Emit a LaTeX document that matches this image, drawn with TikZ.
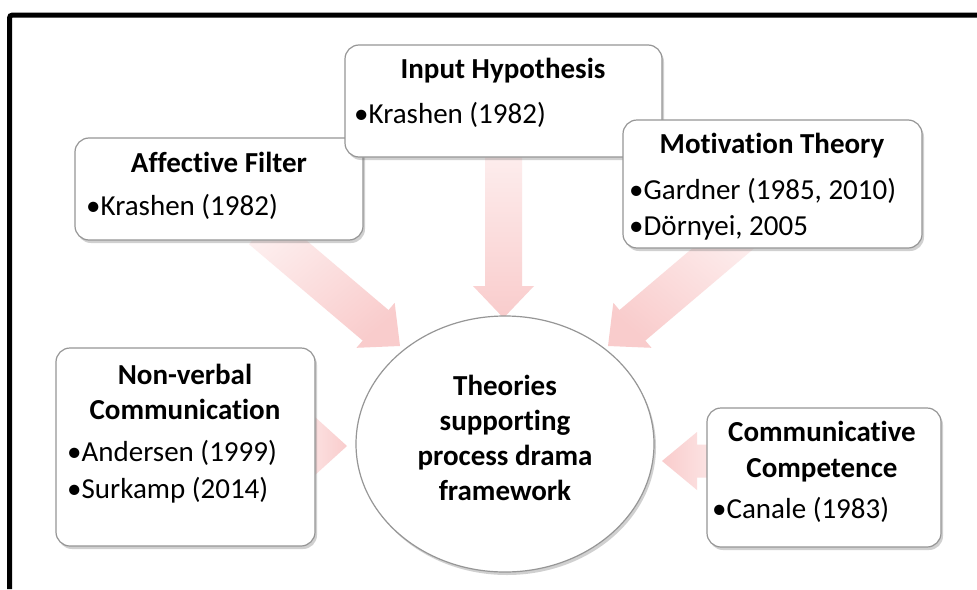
\documentclass[tikz,border=0pt]{standalone}
\usepackage{fontspec}
\setmainfont{Carlito}[RawFeature={-liga}]
\usetikzlibrary{calc,shadows,shapes.geometric}
\definecolor{boxline}{RGB}{150,150,150}
\definecolor{arrowlight}{RGB}{253,238,238}
\definecolor{arrowdark}{RGB}{249,204,204}
\tikzset{
  tbox/.style={draw=boxline, line width=1.2pt, fill=white, rounded corners=14pt,
    minimum width=#1, inner sep=0pt,
    drop shadow={shadow xshift=2pt, shadow yshift=-3pt, opacity=0.3, fill=black!60}},
  txt/.style={font=\fontsize{29}{34}\selectfont, anchor=base, inner sep=0pt},
  ttl/.style={txt, font=\fontsize{29}{34}\selectfont\bfseries},
  bul/.style={txt, anchor=base west},
  arrowfill/.style={top color=arrowlight, bottom color=arrowdark, draw=none}
}
\newcommand\blockarrow[6]{%
  \coordinate (h) at ($(#2)!#5!(#1)$);
  \path[arrowfill, shading angle=#6]
    ($(#1)!#3!90:(#2)$) -- ($(h)!#3!90:(#2)$) -- ($(h)!#4!90:(#2)$) -- (#2)
    -- ($(h)!#4!-90:(#2)$) -- ($(h)!#3!-90:(#2)$) -- ($(#1)!#3!-90:(#2)$) -- cycle;}
\begin{document}
\begin{tikzpicture}[x=1pt,y=-1pt]
\useasboundingbox (0,0) rectangle (977,589);
\fill[white] (0,0) rectangle (977,589);
% frame
\draw[line width=5pt, rounded corners=3pt] (9.5,589) -- (9.5,15) -- (977,15);
% arrow coordinates
\coordinate (a1t) at (262,229); \coordinate (a1h) at (400,346);
\coordinate (a2t) at (503.5,150); \coordinate (a2h) at (503.5,318);
\coordinate (a3t) at (746,229); \coordinate (a3h) at (608,346);
\coordinate (a4t) at (290,446); \coordinate (a4h) at (347,446);
\coordinate (a5t) at (730,461); \coordinate (a5h) at (662,461);
\blockarrow{a1t}{a1h}{20pt}{29.5pt}{32pt}{40}
\blockarrow{a2t}{a2h}{18.5pt}{30.5pt}{32pt}{0}
\blockarrow{a3t}{a3h}{20pt}{29.5pt}{32pt}{-40}
\blockarrow{a4t}{a4h}{17pt}{29pt}{32pt}{90}
\blockarrow{a5t}{a5h}{16.5pt}{29pt}{35pt}{-90}
% boxes
\node[tbox=288pt, minimum height=102pt] (affective) at (219,189) {};
\node[tbox=317pt, minimum height=112pt] (input) at (503.5,101) {};
\node[tbox=299pt, minimum height=128pt] (motivation) at (772.5,184) {};
\node[tbox=259pt, minimum height=198pt] (nonverbal) at (185.5,447) {};
\node[tbox=234pt, minimum height=139pt] (communic) at (824,477.5) {};
\node[draw=boxline, line width=1.2pt, fill=white, ellipse, minimum width=298pt,
  minimum height=256pt, inner sep=0pt,
  drop shadow={shadow xshift=2pt, shadow yshift=-3pt, opacity=0.3, fill=black!60}]
  (center) at (505,444) {};
% texts
\node[ttl] (t1) at (219,172) {Affective Filter};
\node[bul] (b1) at (86,215) {•Krashen (1982)};
\node[ttl] (t2) at (503,78) {Input Hypothesis};
\node[bul] (b2) at (354,123) {•Krashen (1982)};
\node[ttl] (t3) at (772,153) {Motivation Theory};
\node[bul] (b3a) at (629,199) {•Gardner (1985, 2010)};
\node[bul] (b3b) at (629,235) {•Dörnyei, 2005};
\node[ttl] (t4a) at (185,384) {Non-verbal};
\node[ttl] (t4b) at (185,419) {Communication};
\node[bul] (b4a) at (67,461) {•Andersen (1999)};
\node[bul] (b4b) at (67,498) {•Surkamp (2014)};
\node[ttl] (t5a) at (822,441) {Communicative};
\node[ttl] (t5b) at (822,477) {Competence};
\node[bul] (b5) at (712,518) {•Canale (1983)};
\node[ttl] (c1) at (505,395) {Theories};
\node[ttl] (c2) at (505,430) {supporting};
\node[ttl] (c3) at (505,465) {process drama};
\node[ttl] (c4) at (505,500) {framework};
\end{tikzpicture}
\end{document}
